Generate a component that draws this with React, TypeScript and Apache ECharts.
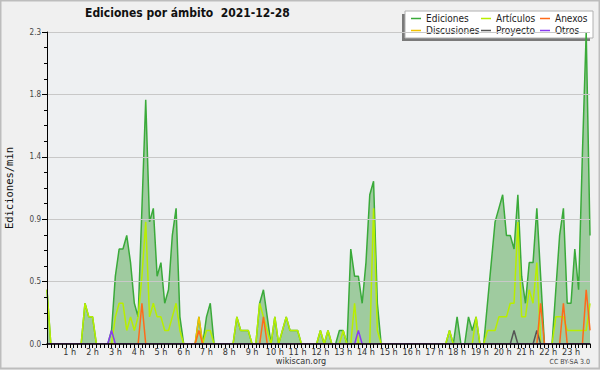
import React, { useEffect, useRef } from "react";
import * as echarts from "echarts";

// 10-minute slots over the day (144 slots)
const hourLabels = Array.from({ length: 24 }, (_, h) => `${h} h`);
const slots: string[] = [];
hourLabels.forEach((h, hi) => {
  for (let m = 0; m < 6; m++) slots.push(`${hi}:${m}0`);
});

// Ediciones/min, one row per hour (6 slots of 10 min)
const ediciones = [
  0.4, 0, 0, 0, 0, 0,
  0, 0, 0, 0, 0.3, 0.2,
  0.2, 0, 0, 0, 0, 0.1,
  0.5, 0.7, 0.7, 0.8, 0.6, 0.3,
  0.2, 1.0, 1.8, 0.9, 1.0, 0.5,
  0.6, 0.3, 0.4, 0.8, 1.0, 0.2,
  0, 0, 0, 0, 0.2, 0,
  0.2, 0.3, 0, 0, 0, 0,
  0, 0, 0.2, 0.1, 0.1, 0.1,
  0, 0, 0.3, 0.4, 0.2, 0,
  0.2, 0, 0.1, 0.2, 0.1, 0.1,
  0.1, 0, 0, 0, 0, 0,
  0.1, 0, 0.1, 0, 0, 0.1,
  0.1, 0, 0.7, 0.5, 0.5, 0.3,
  0.6, 1.1, 1.2, 0.3, 0, 0,
  0, 0, 0, 0, 0, 0,
  0, 0, 0, 0, 0, 0,
  0, 0, 0, 0, 0.1, 0,
  0.2, 0, 0, 0.2, 0.1, 0.2,
  0, 0, 0.3, 0.6, 0.9, 1.0,
  1.1, 0.8, 0.8, 0.7, 1.1, 0.5,
  0.3, 0.6, 0.6, 1.0, 0.5, 0,
  0, 0, 0.4, 0.8, 1.0, 0.3,
  0.3, 0.7, 0.4, 1.4, 2.3, 0.8,
];

const articulos = [
  0.4, 0, 0, 0, 0, 0,
  0, 0, 0, 0, 0.3, 0.2,
  0.2, 0, 0, 0, 0, 0,
  0.2, 0.3, 0.3, 0.1, 0.2, 0.1,
  0.2, 0.5, 0.9, 0.2, 0.3, 0.2,
  0.2, 0.1, 0.1, 0.2, 0.3, 0.1,
  0, 0, 0, 0, 0, 0,
  0.1, 0.1, 0, 0, 0, 0,
  0, 0, 0.2, 0.1, 0.1, 0.1,
  0, 0, 0.3, 0.2, 0.1, 0,
  0.2, 0, 0.1, 0.2, 0.1, 0.1,
  0.1, 0, 0, 0, 0, 0,
  0.1, 0, 0.1, 0, 0, 0,
  0.1, 0, 0, 0.3, 0, 0,
  0, 0, 1.0, 0.1, 0, 0,
  0, 0, 0, 0, 0, 0,
  0, 0, 0, 0, 0, 0,
  0, 0, 0, 0, 0.1, 0,
  0, 0, 0, 0, 0, 0.2,
  0, 0, 0.1, 0.1, 0.1, 0.2,
  0.2, 0.2, 0.3, 0.3, 0.9, 0.2,
  0.2, 0.4, 0.3, 0.6, 0, 0,
  0, 0, 0.2, 0.2, 0.2, 0.1,
  0.1, 0.1, 0.1, 0.1, 0.1, 0.3,
];

const discusiones = [
  0, 0, 0, 0, 0, 0,
  0, 0, 0, 0, 0, 0,
  0, 0, 0, 0, 0, 0,
  0, 0, 0, 0, 0, 0,
  0, 0, 0, 0, 0, 0,
  0, 0, 0, 0, 0, 0,
  0, 0, 0, 0, 0.2, 0,
  0, 0, 0, 0, 0, 0,
  0, 0, 0, 0, 0, 0,
  0, 0, 0, 0, 0, 0,
  0, 0, 0, 0, 0, 0,
  0, 0, 0, 0, 0, 0,
  0, 0, 0, 0, 0, 0,
  0, 0, 0, 0, 0, 0,
  0, 0, 0, 0, 0, 0,
  0, 0, 0, 0, 0, 0,
  0, 0, 0, 0, 0, 0,
  0, 0, 0, 0, 0, 0,
  0, 0, 0, 0, 0, 0,
  0, 0, 0, 0, 0, 0,
  0, 0, 0, 0, 0, 0,
  0, 0, 0, 0, 0, 0,
  0, 0, 0, 0, 0, 0,
  0, 0, 0, 0, 0, 0,
];

const proyecto = [
  0, 0, 0, 0, 0, 0,
  0, 0, 0, 0, 0, 0,
  0, 0, 0, 0, 0, 0,
  0, 0, 0, 0, 0, 0,
  0, 0, 0, 0, 0, 0,
  0, 0, 0, 0, 0, 0,
  0, 0, 0, 0, 0, 0,
  0, 0, 0, 0, 0, 0,
  0, 0, 0, 0, 0, 0,
  0, 0, 0, 0, 0, 0,
  0, 0, 0, 0, 0, 0,
  0, 0, 0, 0, 0, 0,
  0, 0, 0, 0, 0, 0,
  0, 0, 0, 0, 0, 0,
  0, 0, 0, 0, 0, 0,
  0, 0, 0, 0, 0, 0,
  0, 0, 0, 0, 0, 0,
  0, 0, 0, 0, 0, 0,
  0, 0, 0, 0, 0, 0,
  0, 0, 0, 0, 0, 0,
  0, 0, 0, 0.1, 0, 0,
  0, 0, 0, 0.1, 0, 0,
  0, 0, 0, 0, 0, 0,
  0, 0, 0, 0, 0, 0,
];

const anexos = [
  0, 0, 0, 0, 0, 0,
  0, 0, 0, 0, 0, 0,
  0, 0, 0, 0, 0, 0,
  0, 0, 0, 0, 0, 0,
  0, 0.3, 0, 0, 0, 0,
  0, 0, 0, 0, 0, 0,
  0, 0, 0, 0, 0.1, 0,
  0, 0, 0, 0, 0, 0,
  0, 0, 0, 0, 0, 0,
  0, 0, 0, 0.2, 0, 0,
  0, 0, 0, 0, 0, 0,
  0, 0, 0, 0, 0, 0,
  0, 0, 0, 0, 0, 0,
  0, 0, 0, 0, 0, 0,
  0, 0, 0, 0, 0, 0,
  0, 0, 0, 0, 0, 0,
  0, 0, 0, 0, 0, 0,
  0, 0, 0, 0, 0, 0,
  0, 0, 0, 0, 0, 0,
  0, 0, 0, 0, 0, 0,
  0, 0, 0, 0, 0, 0,
  0, 0, 0, 0, 0.3, 0,
  0, 0, 0, 0, 0.3, 0,
  0, 0, 0, 0, 0.4, 0.1,
];

const otros = [
  0, 0, 0, 0, 0, 0,
  0, 0, 0, 0, 0, 0,
  0, 0, 0, 0, 0, 0.1,
  0, 0, 0, 0, 0, 0,
  0, 0, 0, 0, 0, 0,
  0, 0, 0, 0, 0, 0,
  0, 0, 0, 0, 0, 0,
  0, 0, 0, 0, 0, 0,
  0, 0, 0, 0, 0, 0,
  0, 0, 0, 0, 0, 0,
  0, 0, 0, 0, 0, 0,
  0, 0, 0, 0, 0, 0,
  0, 0, 0, 0, 0, 0,
  0, 0, 0, 0, 0.1, 0,
  0, 0, 0, 0, 0, 0,
  0, 0, 0, 0, 0, 0,
  0, 0, 0, 0, 0, 0,
  0, 0, 0, 0, 0, 0,
  0, 0, 0, 0, 0, 0,
  0, 0, 0, 0, 0, 0,
  0, 0, 0, 0, 0, 0,
  0, 0, 0, 0, 0, 0,
  0, 0, 0, 0, 0, 0,
  0, 0, 0, 0, 0, 0,
];

const yMax = 2.3;
const yStep = 0.46;

const COLORS = {
  Ediciones: "#3aaa3a",
  Discusiones: "#f2c200",
  "Artículos": "#b8ee00",
  Proyecto: "#555555",
  Anexos: "#ff6a1a",
  Otros: "#8a3cf0",
};

// legend layout: [name, left, top]
const legendItems: [string, number, number][] = [
  ["Ediciones", 411, 13],
  ["Discusiones", 411, 25],
  ["Artículos", 481, 13],
  ["Proyecto", 481, 25],
  ["Anexos", 540, 13],
  ["Otros", 540, 25],
];

const COND = "'DejaVu Sans Condensed', 'DejaVu Sans', sans-serif";
const MONO = "'DejaVu Sans Mono', monospace";

const lineSeries = (name: string, data: number[], extra: any = {}) => ({
  type: "line",
  name,
  data,
  symbol: "none",
  showSymbol: false,
  color: (COLORS as any)[name],
  lineStyle: { color: (COLORS as any)[name], width: 1.5 },
  itemStyle: { color: (COLORS as any)[name] },
  ...extra,
});

export default function App() {
  const ref = useRef<HTMLDivElement>(null);
  useEffect(() => {
    if (!ref.current) return;
    const chart = echarts.init(ref.current, null, { renderer: "svg" });
    chart.setOption({
      animation: false,
      backgroundColor: "#f0f0f0",
      title: {
        text: "Ediciones por ámbito  2021-12-28",
        left: 85,
        top: 7,
        padding: 0,
        textStyle: { fontSize: 12, fontWeight: "bold", fontFamily: COND, color: "#111" },
      },
      legend: legendItems.map(([name, left, top]) => ({
        left,
        top,
        padding: 0,
        itemWidth: 10,
        itemHeight: 1.5,
        icon: "rect",
        data: [name],
        textStyle: { fontSize: 10, lineHeight: 11, fontFamily: COND, color: "#222" },
      })),
      grid: {
        left: 47,
        top: 32,
        right: 10,
        bottom: 26,
        show: true,
        backgroundColor: "#eef0f2",
        borderWidth: 0,
        containLabel: false,
        outerBoundsMode: "none",
      },
      xAxis: {
        type: "category",
        data: slots,
        boundaryGap: false,
        z: 10,
        axisLine: { lineStyle: { color: "#000", width: 1.5 } },
        axisTick: { show: true, interval: 0, length: 4, lineStyle: { color: "#000" } },
        axisLabel: {
          interval: (i: number) => i > 0 && i % 6 === 0,
          formatter: (_v: string, i: number) => hourLabels[Math.floor(i / 6)],
          fontSize: 9,
          fontFamily: COND,
          color: "#333",
          margin: 3,
        },
        splitLine: { show: false },
      },
      yAxis: {
        type: "value",
        min: 0,
        max: yMax,
        interval: yStep,
        z: 10,
        name: "Ediciones/min",
        nameLocation: "middle",
        nameRotate: 90,
        nameGap: 33,
        nameTextStyle: { fontSize: 10.5, fontFamily: MONO, color: "#111" },
        axisLine: { show: true, lineStyle: { color: "#000", width: 1 } },
        axisTick: { show: true, length: 5, lineStyle: { color: "#000" } },
        minorTick: { show: true, splitNumber: 4, length: 3, lineStyle: { color: "#000" } },
        axisLabel: {
          formatter: (v: number) => v.toFixed(1),
          fontSize: 8,
          fontFamily: COND,
          color: "#444",
          margin: 6,
        },
        splitLine: { show: true, lineStyle: { color: "#c8c8c8", width: 1 } },
      },
      series: [
        lineSeries("Ediciones", ediciones, {
          areaStyle: { color: "#9fcb9f", opacity: 1 },
        }),
        lineSeries("Artículos", articulos),
        lineSeries("Discusiones", discusiones),
        lineSeries("Proyecto", proyecto),
        lineSeries("Anexos", anexos),
        lineSeries("Otros", otros),
      ],
      graphic: [
        {
          type: "rect",
          z: 3,
          shape: { x: 402, y: 14, width: 188, height: 27 },
          style: { fill: "#7a7a7a" },
        },
        {
          type: "rect",
          z: 3,
          shape: { x: 405, y: 11, width: 188, height: 27 },
          style: { fill: "#ffffff", stroke: "#b0b0b0", lineWidth: 1 },
        },
        {
          type: "text",
          x: 301,
          y: 361,
          style: {
            text: "wikiscan.org",
            fontSize: 9,
            fontFamily: COND,
            fill: "#333",
            align: "center",
            verticalAlign: "middle",
          },
        },
        {
          type: "text",
          x: 590,
          y: 362,
          style: {
            text: "CC BY-SA 3.0",
            fontSize: 7,
            fontFamily: COND,
            fill: "#444",
            align: "right",
            verticalAlign: "middle",
          },
        },
        {
          type: "rect",
          z: 20,
          shape: { x: 0.5, y: 0.5, width: 599, height: 368 },
          style: { fill: "none", stroke: "#bdbdbd", lineWidth: 2 },
        },
      ],
    });
    return () => chart.dispose();
  }, []);
  return (
    <div
      ref={ref}
      style={{ position: "fixed", left: 0, top: 0, width: 600, height: 370 }}
    />
  );
}
